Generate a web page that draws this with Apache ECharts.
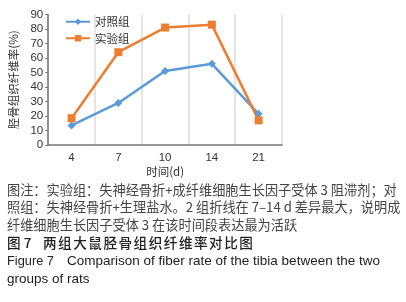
<!DOCTYPE html>
<html>
<head>
<meta charset="utf-8">
<script src="https://cdn.jsdelivr.net/npm/echarts@6/dist/echarts.min.js"></script>
<style>
  html, body { margin: 0; padding: 0; background: #fff; }
  #main { width: 406px; height: 302px; }
</style>
</head>
<body>
<div id="main"></div>
<script>
const days = ['4', '7', '10', '14', '21'];
const controlRate = [13.5, 29, 51, 56, 21.5];   // 对照组
const expRate = [18.5, 64, 81, 83, 17];         // 实验组
const captionLines = [
  '图注：实验组：失神经骨折+成纤维细胞生长因子受体 3 阻滞剂；对',
  '照组：失神经骨折+生理盐水。2 组折线在 7–14 d 差异最大，说明成',
  '纤维细胞生长因子受体 3 在该时间段表达最为活跃'
];
const figNo = ['图 7', 'Figure 7'];
const titleCn = '两组大鼠胫骨组织纤维率对比图';
const titleEn = ['Comparison of fiber rate of the tibia between the two', 'groups of rats'];

const cjk = '"Noto Sans CJK SC", "Liberation Sans", sans-serif';
const latin = '"Liberation Sans", Arial, sans-serif';

var myChart = echarts.init(document.getElementById('main'));

// 图注 + 图题
const graphics = [];
captionLines.forEach((t, i) => {
  graphics.push({
    type: 'text', left: 7, top: 183 + i * 17.8,
    style: { text: t, font: '13.2px ' + cjk, fill: '#444' }
  });
});
graphics.push({ type: 'text', left: 7, top: 236, style: { text: figNo[0], font: '500 13.6px ' + cjk, fill: '#222' } });
// 中文图题字距较宽，逐字排
titleCn.split('').forEach((ch, i) => {
  graphics.push({ type: 'text', left: 43 + i * 15.1, top: 236, style: { text: ch, font: '500 13.6px ' + cjk, fill: '#222' } });
});
graphics.push(
  { type: 'text', left: 7, top: 254.5, style: { text: figNo[1], font: '12.8px ' + latin, fill: '#222' } },
  { type: 'text', left: 67, top: 254.5, style: { text: titleEn[0], font: '13.5px ' + latin, fill: '#222' } },
  { type: 'text', left: 7, top: 272, style: { text: titleEn[1], font: '13.5px ' + latin, fill: '#222' } }
);

const option = {
  animation: false,
  textStyle: { fontFamily: cjk },
  grid: { left: 46, right: 124, top: 14.5, bottom: 157 },
  legend: {
    orient: 'vertical',
    left: 60,
    top: 11,
    itemWidth: 24,
    itemHeight: 8,
    itemGap: 5,
    textStyle: { fontSize: 11.5, color: '#333', fontFamily: cjk },
    data: ['对照组', '实验组']
  },
  xAxis: {
    type: 'category',
    data: days,
    boundaryGap: true,
    name: '时间(d)',
    nameLocation: 'middle',
    nameGap: 21,
    nameTextStyle: { fontSize: 11.5, color: '#333', fontFamily: cjk },
    axisLine: { lineStyle: { color: '#777', width: 1.5 } },
    axisTick: { alignWithLabel: true, length: 3, lineStyle: { color: '#777' } },
    axisLabel: { fontSize: 11.5, color: '#333', margin: 7, fontFamily: latin },
    splitLine: { show: true, lineStyle: { color: '#ddd', width: 1.5 } }
  },
  yAxis: {
    type: 'value',
    min: 0,
    max: 90,
    interval: 10,
    name: '胫骨组织纤维率(%)',
    nameLocation: 'middle',
    nameGap: 27,
    nameTextStyle: { fontSize: 11.5, color: '#333', fontFamily: cjk },
    axisLine: { show: true, lineStyle: { color: '#777', width: 1.5 } },
    axisTick: { show: true, length: 3, lineStyle: { color: '#777' } },
    axisLabel: { fontSize: 11.5, color: '#333', margin: 5, fontFamily: latin },
    splitLine: { show: false }
  },
  series: [
    {
      name: '对照组',
      type: 'line',
      data: controlRate,
      symbol: 'diamond',
      symbolSize: 8,
      lineStyle: { color: '#5b9bd5', width: 2.5 },
      itemStyle: { color: '#5b9bd5' }
    },
    {
      name: '实验组',
      type: 'line',
      data: expRate,
      symbol: 'rect',
      symbolSize: 8,
      lineStyle: { color: '#ed7d31', width: 2.5 },
      itemStyle: { color: '#ed7d31' }
    }
  ],
  graphic: graphics
};

myChart.setOption(option);
</script>
</body>
</html>
